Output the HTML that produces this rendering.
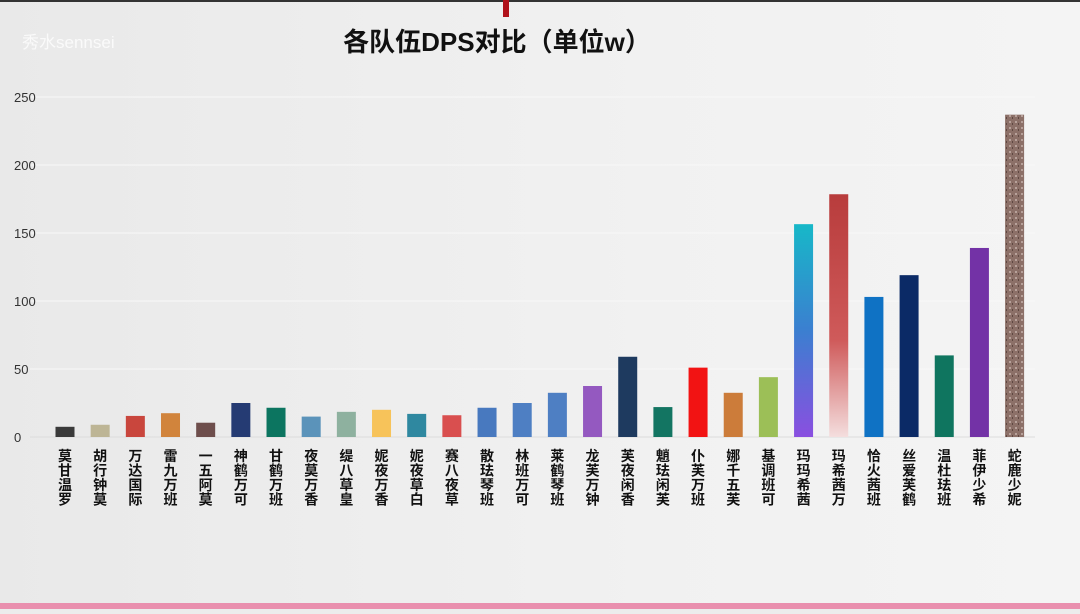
<!DOCTYPE html>
<html><head><meta charset="utf-8">
<style>
body{margin:0;width:1080px;height:609px;overflow:hidden;background:#ececec;font-family:"Liberation Sans","Noto Sans CJK SC",sans-serif;}
#wrap{position:relative;width:1080px;height:609px;background:linear-gradient(90deg,#e9e9e9,#f1f1f1 60%,#f4f4f4);}
</style></head>
<body>
<div id="wrap">
<svg id="chart" width="1080" height="609">
<defs>
<linearGradient id="g1" x1="0" y1="0" x2="0" y2="1"><stop offset="0" stop-color="#17b8c8"/><stop offset="0.5" stop-color="#3b7fd0"/><stop offset="1" stop-color="#8a4fe0"/></linearGradient>
<linearGradient id="g2" x1="0" y1="0" x2="0" y2="1"><stop offset="0" stop-color="#b83c3c"/><stop offset="0.6" stop-color="#cf5a5a"/><stop offset="1" stop-color="#f4dede"/></linearGradient>
<pattern id="g3" width="6" height="6" patternUnits="userSpaceOnUse"><rect width="6" height="6" fill="#8c7068"/><rect x="1" y="1" width="2" height="2" fill="#b7a19a"/><rect x="4" y="3" width="1" height="2" fill="#5e4741"/></pattern>
</defs>
<rect x="0" y="0" width="1080" height="2" fill="#333"/>
<rect x="503" y="0" width="6" height="17" fill="#b0121b"/>
<rect x="0" y="603" width="1080" height="6" fill="#e98fae"/>
<text x="22" y="48" font-size="17" fill="#fafafa">秀水sennsei</text>
<text x="497" y="51" font-size="26" font-weight="bold" text-anchor="middle" fill="#111" font-family="'Liberation Sans','Noto Sans CJK SC',sans-serif">各队伍DPS对比（单位w）</text>
<g id="grid"></g><g id="bars"></g><g id="labels"></g>
</svg>
</div>
<script>
const categories=["莫甘温罗","胡行钟莫","万达国际","雷九万班","一五阿莫","神鹤万可","甘鹤万班","夜莫万香","缇八草皇","妮夜万香","妮夜草白","赛八夜草","散珐琴班","林班万可","莱鹤琴班","龙芙万钟","芙夜闲香","魈珐闲芙","仆芙万班","娜千五芙","基调班可","玛玛希茜","玛希茜万","恰火茜班","丝爱芙鹤","温杜珐班","菲伊少希","蛇鹿少妮"];
const values=[7.5,9,15.5,17.5,10.5,25,21.5,15,18.5,20,17,16,21.5,25,32.5,37.5,59,22,51,32.5,44,156.5,178.5,103,119,60,139,237];
const colors=["#3a3a3a","#bdb595","#c9463d","#d1843c","#6e4e4c","#253b73","#0c7560","#5b93ba","#8eb19f","#f7c35a","#2f88a0","#d94f4f","#4879bf","#4e7fc3","#4e7fc3","#9459c0","#1e3a5f","#137562","#f21313","#cc7c3a","#9cbf57","url(#g1)","url(#g2)","#0f72c4","#0b2a66","#0f755f","#7332a6","url(#g3)"];
const ticks=[0,50,100,150,200,250];
const NS="http://www.w3.org/2000/svg";
const y0=437,pxPer=340/250,x0=65,step=35.17,bw=19;
const ys=v=>y0-v*pxPer, xs=i=>x0+i*step;
const grid=document.getElementById('grid'),bars=document.getElementById('bars'),labels=document.getElementById('labels');
ticks.forEach(t=>{
  const l=document.createElementNS(NS,'line');
  l.setAttribute('x1',30);l.setAttribute('x2',1035);l.setAttribute('y1',ys(t));l.setAttribute('y2',ys(t));
  l.setAttribute('stroke',t===0?'#dcdcdc':'#f8f8f8');l.setAttribute('stroke-width',1);
  
  
  grid.appendChild(l);
  const tx=document.createElementNS(NS,'text');
  tx.setAttribute('x',14);tx.setAttribute('y',ys(t)+5);tx.setAttribute('font-size',13);tx.setAttribute('fill','#333');
  tx.textContent=t;
  
  
  grid.appendChild(tx);
});
categories.forEach((c,i)=>{
  const r=document.createElementNS(NS,'rect');
  r.setAttribute('x',xs(i)-bw/2);r.setAttribute('y',ys(values[i]));r.setAttribute('width',bw);r.setAttribute('height',values[i]*pxPer);
  r.setAttribute('fill',colors[i]);
  
  
  bars.appendChild(r);
  const t=document.createElementNS(NS,'text');
  t.setAttribute('font-size',14);t.setAttribute('font-weight','bold');t.setAttribute('fill','#111');t.setAttribute('text-anchor','middle');
  
  
  [...c].forEach((ch,k)=>{
    const s=document.createElementNS(NS,'tspan');
    s.setAttribute('x',xs(i));s.setAttribute('y',461+k*14.5);s.textContent=ch;t.appendChild(s);
  });
  labels.appendChild(t);
});
</script>
</body></html>
